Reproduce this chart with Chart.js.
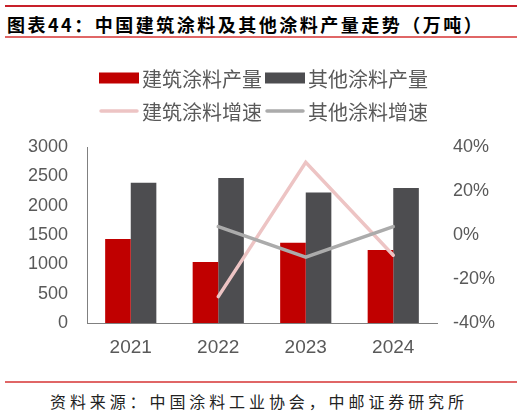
<!DOCTYPE html>
<html><head><meta charset="utf-8">
<script src="https://cdn.jsdelivr.net/npm/chart.js@4.4.1/dist/chart.umd.min.js"></script>
<style>
html,body{margin:0;padding:0;background:#fff;}
#wrap{position:relative;width:527px;height:416px;overflow:hidden;background:#fff;}
.rule{position:absolute;left:5px;width:512px;}
#title{position:absolute;left:7px;top:12px;font-family:"Noto Sans CJK SC";font-weight:bold;font-size:18px;letter-spacing:2.5px;color:#000;line-height:24px;white-space:nowrap;}
#src{position:absolute;left:50px;top:391px;font-family:"Noto Sans CJK SC";font-size:16px;letter-spacing:3.9px;color:#222;line-height:20px;white-space:nowrap;}
#c{position:absolute;left:0;top:40px;}
</style></head>
<body>
<div id="wrap">
  <div class="rule" style="top:5px;height:2px;background:#C8202A;"></div>
  <div id="title">图表44：中国建筑涂料及其他涂料产量走势（万吨）</div>
  <div class="rule" style="top:36px;height:1.5px;background:#E06666;"></div>
  <canvas id="c" width="527" height="332"></canvas>
  <div class="rule" style="top:381px;height:1.5px;background:#E06666;"></div>
  <div id="src">资料来源：中国涂料工业协会，中邮证券研究所</div>
</div>
<script>
const categories = ['2021', '2022', '2023', '2024'];
const seriesNames = ['建筑涂料产量', '其他涂料产量', '建筑涂料增速', '其他涂料增速'];
const archProd = [1430, 1040, 1370, 1245];
const otherProd = [2390, 2470, 2225, 2300];
const archGrowth = [null, -28, 33, -9.2];
const otherGrowth = [null, 3.8, -10.1, 3.8];
const leftTicks = [0, 500, 1000, 1500, 2000, 2500, 3000];
const rightTicks = ['-40%', '-20%', '0%', '20%', '40%'];

const tickFont = {family: '"Liberation Sans", Arial, sans-serif', size: 18};
const xFont = {family: '"Liberation Sans", Arial, sans-serif', size: 19};
const tickColor = '#595959';

const legendPlugin = {
  id: 'twoRowLegend',
  afterDraw(chart) {
    const c = chart.ctx;
    const ds = chart.data.datasets;
    c.save();
    c.font = '20px "Noto Sans CJK SC"';
    c.textBaseline = 'middle';
    const rows = [[0, 1], [2, 3]];
    const rowY = [38, 71];
    const boxW = 40, gapText = 3, gapItem = 3;
    rows.forEach((row, r) => {
      const widths = row.map(i => boxW + gapText + c.measureText(ds[i].label).width);
      const total = widths.reduce((a, b) => a + b, 0) + gapItem * (row.length - 1);
      let x = (chart.width - total) / 2;
      const y = rowY[r];
      row.forEach((i, k) => {
        const d = ds[i];
        if (d.type === 'line') {
          c.strokeStyle = d.borderColor;
          c.lineWidth = 3.5;
          c.lineCap = 'round';
          c.beginPath();
          c.moveTo(x + 2, y);
          c.lineTo(x + boxW - 2, y);
          c.stroke();
        } else {
          c.fillStyle = d.backgroundColor;
          c.fillRect(x, y - 5.5, boxW, 11);
        }
        c.fillStyle = '#595959';
        c.fillText(d.label, x + boxW + gapText, y + 1);
        x += widths[k] + gapItem;
      });
    });
    c.restore();
  }
};

new Chart(document.getElementById('c').getContext('2d'), {
  type: 'bar',
  data: {
    labels: categories,
    datasets: [
      {label: seriesNames[0], data: archProd, backgroundColor: '#C00000', yAxisID: 'y', order: 3,
       categoryPercentage: 0.585, barPercentage: 1},
      {label: seriesNames[1], data: otherProd, backgroundColor: '#4D4D50', yAxisID: 'y', order: 3,
       categoryPercentage: 0.585, barPercentage: 1},
      {type: 'line', label: seriesNames[2], data: archGrowth, yAxisID: 'y1', borderColor: '#EDC4C4',
       borderWidth: 3.5, pointRadius: 0, borderCapStyle: 'round', borderJoinStyle: 'miter', tension: 0, order: 2},
      {type: 'line', label: seriesNames[3], data: otherGrowth, yAxisID: 'y1', borderColor: '#ABABAB',
       borderWidth: 3.5, pointRadius: 0, borderCapStyle: 'round', borderJoinStyle: 'miter', tension: 0, order: 1}
    ]
  },
  options: {
    responsive: false,
    animation: false,
    devicePixelRatio: 1,
    layout: {padding: {top: 107, left: 0, right: 0, bottom: 0}},
    plugins: {legend: {display: false}, tooltip: {enabled: false}, title: {display: false}},
    scales: {
      x: {
        grid: {display: false, drawTicks: false},
        border: {display: true, color: '#808080', width: 1},
        ticks: {color: tickColor, font: xFont, padding: 13},
        afterFit: s => { s.height = 49; }
      },
      y: {
        position: 'left',
        min: leftTicks[0], max: leftTicks[leftTicks.length - 1],
        afterBuildTicks: s => { s.ticks = leftTicks.map(v => ({value: v})); },
        grid: {display: false, drawTicks: false},
        border: {display: true, color: '#808080', width: 1},
        ticks: {color: tickColor, font: tickFont, padding: 19, callback: v => String(v)},
        afterFit: s => { s.width = 87; }
      },
      y1: {
        position: 'right',
        min: parseFloat(rightTicks[0]), max: parseFloat(rightTicks[rightTicks.length - 1]),
        afterBuildTicks: s => { s.ticks = rightTicks.map(t => ({value: parseFloat(t)})); },
        grid: {display: false, drawTicks: false},
        border: {display: false},
        ticks: {color: tickColor, font: tickFont, padding: 16,
                callback: (v) => rightTicks.find(t => parseFloat(t) === v) || (v + '%')},
        afterFit: s => { s.width = 90; }
      }
    }
  },
  plugins: [legendPlugin]
});
</script>
</body></html>
